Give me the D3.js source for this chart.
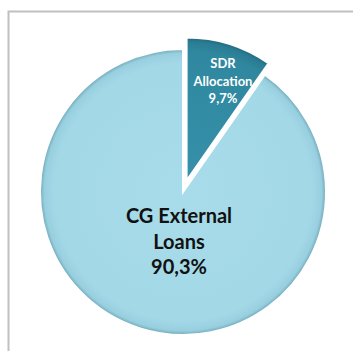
<!DOCTYPE html>
<html>
<head>
<meta charset="utf-8">
<script src="https://cdn.jsdelivr.net/npm/d3@7/dist/d3.min.js"></script>
<style>
  html, body { margin: 0; padding: 0; background: #fff; }
  svg { display: block; }
</style>
</head>
<body>
<script>
// Composition of external debt (shares, %)
const categories = ["SDR Allocation", "CG External Loans"];
const shares = [9.7, 90.3];
const shareLabels = ["9,7%", "90,3%"];
const labelLines = [["SDR", "Allocation"], ["CG External", "Loans"]];

const W = 353, H = 351;
const cx = 183, cy = 192, R = 143;
const explode = 12;

const svg = d3.select("body").append("svg")
  .attr("width", W).attr("height", H);

// outer frame
svg.append("rect")
  .attr("x", 8.5).attr("y", 11.5)
  .attr("width", 360).attr("height", 360)
  .attr("fill", "none")
  .attr("stroke", "#c0c0c0")
  .attr("stroke-width", 2);

const defs = svg.append("defs");
const gradSpecs = [
  { id: "gSdr", stops: [["0%", "#3590a9"], ["90%", "#2f889f"], ["97%", "#2a7c93"], ["100%", "#216a7e"]] },
  { id: "gCg", stops: [["0%", "#a8dcea"], ["90%", "#a3d8e7"], ["97%", "#98cfdf"], ["100%", "#6fa7b8"]] }
];
gradSpecs.forEach(g => {
  const rg = defs.append("radialGradient")
    .attr("id", g.id)
    .attr("gradientUnits", "userSpaceOnUse")
    .attr("cx", 0).attr("cy", 0).attr("r", R);
  g.stops.forEach(s => rg.append("stop").attr("offset", s[0]).attr("stop-color", s[1]));
});

const pie = d3.pie().sort(null).value(d => d).startAngle(0);
const arcs = pie(shares);
const arc = d3.arc().innerRadius(0).outerRadius(R);

const g = svg.append("g").attr("transform", `translate(${cx},${cy})`);

const slices = g.selectAll("g.slice")
  .data(arcs)
  .join("g")
  .attr("class", "slice")
  .attr("transform", (d, i) => {
    if (i !== 0) return null;
    const mid = (d.startAngle + d.endAngle) / 2;
    return `translate(${Math.sin(mid) * explode},${-Math.cos(mid) * explode})`;
  });

slices.append("path")
  .attr("d", arc)
  .attr("fill", (d, i) => i === 0 ? "url(#gSdr)" : "url(#gCg)")
  .attr("stroke", "#ffffff")
  .attr("stroke-width", 2)
  .attr("stroke-linejoin", "miter");

// SDR label (white, inside the exploded slice)
const sdrText = svg.append("text")
  .attr("text-anchor", "middle")
  .attr("font-family", "Lato, 'DejaVu Sans', sans-serif")
  .attr("font-weight", "bold")
  .attr("font-size", 13)
  .attr("fill", "#ffffff");
[labelLines[0][0], labelLines[0][1], shareLabels[0]].forEach((t, i) => {
  sdrText.append("tspan").attr("x", 223).attr("y", 68 + i * 17.5).text(t);
});

// CG label (dark, centred in the large slice)
const cgText = svg.append("text")
  .attr("text-anchor", "middle")
  .attr("font-family", "Lato, 'DejaVu Sans', sans-serif")
  .attr("font-weight", "bold")
  .attr("font-size", 20)
  .attr("fill", "#111111");
[labelLines[1][0], labelLines[1][1], shareLabels[1]].forEach((t, i) => {
  cgText.append("tspan").attr("x", 179).attr("y", 223 + i * 25.5).text(t);
});
</script>
</body>
</html>
